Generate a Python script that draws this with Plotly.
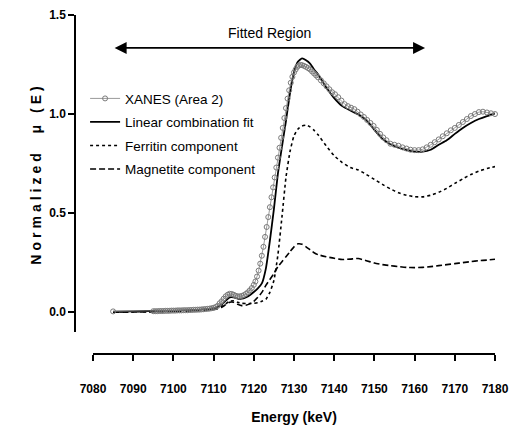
import plotly.graph_objects as go

# ---------------- data ----------------
energy_lines = [7085, 7090, 7095, 7100, 7105, 7108, 7110, 7111, 7112, 7113, 7114, 7115,
                7116, 7117, 7118, 7119, 7120, 7121, 7122, 7123, 7124, 7125, 7126, 7127,
                7128, 7129, 7130, 7131, 7132, 7133, 7134, 7135, 7136, 7138, 7140, 7142,
                7144, 7146, 7148, 7150, 7152, 7154, 7156, 7158, 7160, 7162, 7164, 7166,
                7168, 7170, 7172, 7174, 7176, 7178, 7180]

fit_values = [0.003, 0.004, 0.006, 0.008, 0.011, 0.015, 0.020, 0.027, 0.038, 0.058, 0.075, 0.075,
              0.068, 0.068, 0.075, 0.086, 0.102, 0.120, 0.145, 0.220, 0.360, 0.520, 0.700, 0.835,
              0.965, 1.105, 1.212, 1.265, 1.281, 1.272, 1.255, 1.225, 1.200, 1.135, 1.080, 1.040,
              1.018, 0.998, 0.970, 0.920, 0.875, 0.848, 0.830, 0.818, 0.810, 0.810, 0.820, 0.845,
              0.868, 0.900, 0.930, 0.955, 0.975, 0.990, 1.003]

ferritin_values = [0.000, 0.002, 0.003, 0.005, 0.008, 0.012, 0.016, 0.020, 0.028, 0.042, 0.055, 0.058,
                   0.050, 0.045, 0.044, 0.044, 0.045, 0.048, 0.055, 0.065, 0.100, 0.160, 0.290, 0.480,
                   0.680, 0.810, 0.890, 0.925, 0.940, 0.944, 0.935, 0.918, 0.895, 0.840, 0.790, 0.755,
                   0.730, 0.718, 0.695, 0.670, 0.645, 0.622, 0.603, 0.590, 0.583, 0.582, 0.590, 0.605,
                   0.625, 0.650, 0.673, 0.695, 0.712, 0.725, 0.735]

magnetite_values = [0.000, 0.001, 0.002, 0.004, 0.007, 0.010, 0.014, 0.018, 0.025, 0.038, 0.050, 0.050,
                    0.040, 0.033, 0.035, 0.042, 0.055, 0.075, 0.100, 0.135, 0.165, 0.195, 0.230, 0.255,
                    0.280, 0.305, 0.330, 0.345, 0.343, 0.330, 0.315, 0.300, 0.290, 0.280, 0.272, 0.266,
                    0.268, 0.271, 0.260, 0.248, 0.240, 0.235, 0.230, 0.226, 0.225, 0.226, 0.230, 0.235,
                    0.240, 0.245, 0.250, 0.255, 0.260, 0.263, 0.267]

xanes_energy = [7085,
                7095, 7095.5, 7096, 7096.5, 7097, 7097.5, 7098, 7098.5, 7099, 7099.5, 7100, 7100.5,
                7101, 7101.5, 7102, 7102.5, 7103, 7103.5, 7104, 7104.5, 7105, 7105.5, 7106, 7106.5,
                7107, 7107.5, 7108, 7108.5, 7109, 7109.5, 7110, 7110.5, 7111, 7111.5, 7112, 7112.5,
                7113, 7113.5, 7114, 7114.5, 7115, 7115.5, 7116, 7116.5, 7117, 7117.5, 7118, 7118.5,
                7119, 7119.5, 7120.0, 7120.4, 7120.8, 7121.2, 7121.6, 7122.0, 7122.4, 7122.8, 7123.2,
                7123.6, 7124.0, 7124.4, 7124.8, 7125.2, 7125.6, 7126.0, 7126.4, 7126.8, 7127.2, 7127.6,
                7128.0, 7128.4, 7128.8, 7129.2, 7129.6, 7130.0, 7130.4, 7130.8, 7131.2, 7131.6, 7132.0,
                7132.5, 7133.0, 7133.5, 7134.0, 7134.5, 7135.0, 7135.5, 7136.0, 7136.7, 7137.4, 7138.1,
                7138.8, 7139.5, 7140.2, 7141.0, 7141.8, 7142.6, 7143.4, 7144.2, 7145.0, 7145.8, 7146.6,
                7147.4, 7148.2, 7149.0, 7149.8, 7150.6, 7151.4, 7152.2, 7153.0, 7154, 7155, 7156, 7157,
                7158, 7159, 7160, 7161, 7162, 7163, 7164, 7165, 7166, 7167, 7168, 7169, 7170, 7171,
                7172, 7173, 7174, 7175, 7176, 7177, 7178, 7179, 7180]

xanes_values = [0.004,
                0.005, 0.005, 0.005, 0.006, 0.006, 0.006, 0.007, 0.007, 0.007, 0.008, 0.008, 0.008,
                0.009, 0.009, 0.009, 0.010, 0.010, 0.010, 0.011, 0.011, 0.012, 0.012, 0.013, 0.013,
                0.014, 0.015, 0.016, 0.017, 0.018, 0.020, 0.022, 0.026, 0.032, 0.045, 0.055, 0.068,
                0.080, 0.088, 0.093, 0.092, 0.088, 0.083, 0.080, 0.080, 0.082, 0.086, 0.092, 0.100,
                0.110, 0.122, 0.138, 0.155, 0.180, 0.210, 0.245, 0.285, 0.330, 0.380, 0.430,
                0.480, 0.530, 0.580, 0.630, 0.680, 0.730, 0.780, 0.830, 0.880, 0.930, 0.980,
                1.030, 1.078, 1.120, 1.158, 1.188, 1.210, 1.225, 1.238, 1.245, 1.248, 1.247,
                1.243, 1.238, 1.232, 1.225, 1.215, 1.205, 1.195, 1.185, 1.170, 1.155, 1.140,
                1.125, 1.110, 1.100, 1.085, 1.068, 1.050, 1.040, 1.032, 1.025, 1.012, 0.998,
                0.985, 0.970, 0.955, 0.940, 0.920, 0.900, 0.882, 0.868, 0.850, 0.845, 0.840, 0.832,
                0.826, 0.820, 0.818, 0.818, 0.822, 0.832, 0.845, 0.858, 0.872, 0.888, 0.903, 0.918,
                0.930, 0.945, 0.960, 0.975, 0.990, 1.000, 1.010, 1.012, 1.008, 1.004, 1.000]

x_ticks = [7080, 7090, 7100, 7110, 7120, 7130, 7140, 7150, 7160, 7170, 7180]
y_ticks = [0.0, 0.5, 1.0, 1.5]
y_ticklabels = ["0.0", "0.5", "1.0", "1.5"]

fitted_start, fitted_end, fitted_level = 7085, 7162.6, 1.334

# ---------------- figure ----------------
FONT = "Liberation Sans, Arial, sans-serif"
fig = go.Figure()

fig.add_trace(go.Scatter(x=energy_lines, y=ferritin_values, mode="lines",
                         name="Ferritin component", legendrank=3, legendgroup="c",
                         line=dict(color="black", width=1.6, dash="dot", shape="spline", smoothing=0.5)))
fig.add_trace(go.Scatter(x=energy_lines, y=magnetite_values, mode="lines",
                         name="Magnetite component", legendrank=4, legendgroup="d",
                         line=dict(color="black", width=1.6, dash="6px,3px", shape="spline", smoothing=0.5)))
fig.add_trace(go.Scatter(x=energy_lines, y=fit_values, mode="lines",
                         name="Linear combination fit", legendrank=2, legendgroup="b",
                         line=dict(color="black", width=1.8, shape="spline", smoothing=0.5)))
fig.add_trace(go.Scatter(x=xanes_energy, y=xanes_values, mode="lines+markers",
                         name="XANES (Area 2)", legendrank=1, legendgroup="a", cliponaxis=False,
                         line=dict(color="#808080", width=0.8),
                         marker=dict(symbol="circle-open", size=5, color="#7a7a7a",
                                     line=dict(width=1, color="#7a7a7a"))))

# Fitted region arrow
fig.add_annotation(x=fitted_end, y=fitted_level, ax=fitted_start, ay=fitted_level,
                   xref="x", yref="y", axref="x", ayref="y", text="",
                   showarrow=True, arrowhead=2, arrowside="end+start",
                   arrowsize=1.5, arrowwidth=1.6, arrowcolor="black", standoff=0, startstandoff=0)
fig.add_annotation(x=(fitted_start + fitted_end) / 2, y=1.408, xref="x", yref="y",
                   text="Fitted Region", showarrow=False,
                   font=dict(family=FONT, size=14, color="black"))

fig.update_layout(
    width=525, height=425, autosize=False,
    margin=dict(l=75, r=30, t=15, b=71, autoexpand=False),
    paper_bgcolor="white", plot_bgcolor="white",
    font=dict(family=FONT, color="black"),
    showlegend=True,
    legend=dict(x=0.024, y=0.799, xanchor="left", yanchor="top",
                bgcolor="rgba(0,0,0,0)", font=dict(family=FONT, size=13.5, color="black"),
                itemwidth=30, tracegroupgap=3),
    xaxis=dict(domain=[18 / 420, 1], range=[7080, 7180], anchor="free", position=0,
               automargin=False,
               tickvals=x_ticks, ticks="outside", ticklen=6, tickwidth=1.5, tickcolor="black",
               showline=True, linecolor="black", linewidth=1.5, showgrid=False, zeroline=False,
               tickfont=dict(family=FONT, size=12, color="black", weight="bold"),
               ticklabelstandoff=18,
               title=dict(text="Energy (keV)", standoff=16,
                          font=dict(family=FONT, size=14, color="black", weight="bold"))),
    yaxis=dict(domain=[22 / 339, 1], range=[-0.1, 1.5], anchor="free", position=0,
               automargin=False,
               tickvals=y_ticks, ticktext=y_ticklabels, ticks="outside", ticklen=6,
               tickwidth=1.5, tickcolor="black",
               showline=True, linecolor="black", linewidth=1.5, showgrid=False, zeroline=False,
               tickfont=dict(family=FONT, size=12, color="black", weight="bold"),
               title=dict(text='<span style="letter-spacing:4px">Normalized\u00a0\u00a0μ\u00a0(E)</span>',
                          standoff=3,
                          font=dict(family=FONT, size=14, color="black", weight="bold"))),
)

fig.write_html("out.html")
